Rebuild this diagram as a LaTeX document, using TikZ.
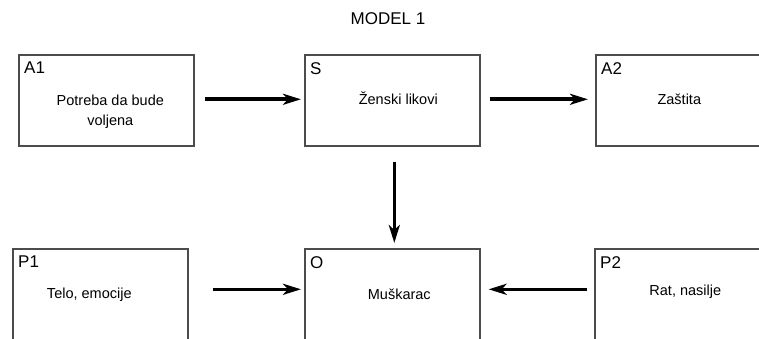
\documentclass[tikz,border=0pt]{standalone}
\usepackage{fontspec}
\setmainfont{Liberation Sans}
\usetikzlibrary{calc,arrows.meta}
\begin{document}
\begin{tikzpicture}[x=1pt,y=-1pt,
  box/.style={draw=black!70,line width=1.6pt,minimum width=175pt,minimum height=91pt,
    anchor=north west,inner sep=0pt},
  tag/.style={anchor=north west,inner sep=0pt,font=\fontsize{17}{17}\selectfont},
  body/.style={align=center,inner sep=0pt,font=\fontsize{14.5}{20}\selectfont},
  flow/.style={line width=3.6pt,-{Stealth[length=18pt,width=11pt,inset=5pt]}}]
\clip (0,0) rectangle (759,339);
\fill[white] (0,0) rectangle (759,339);

\node[font=\fontsize{17}{17}\selectfont] (title) at (388,19) {MODEL 1};

% upper row
\node[box] (A1) at (18,54) {};
\node[box] (S)  at (304,54) {};
\node[box] (A2) at (595,54) {};
% lower row
\node[box] (P1) at (12,248) {};
\node[box] (O)  at (304,248) {};
\node[box] (P2) at (594,248) {};

% corner tags
\node[tag] (tA1) at ($(A1.north west)+(6,8)$) {A1};
\node[tag] (tS)  at ($(S.north west)+(6,8)$) {S};
\node[tag] (tA2) at ($(A2.north west)+(6,8)$) {A2};
\node[tag] (tP1) at ($(P1.north west)+(6,8)$) {P1};
\node[tag] (tO)  at ($(O.north west)+(6,8)$) {O};
\node[tag] (tP2) at ($(P2.north west)+(6,8)$) {P2};

% box contents
\node[body] (xA1) at ($(A1.center)+(4,11)$) {Potreba da bude\\voljena};
\node[body] (xS)  at ($(S.center)+(6,-2)$) {Ženski likovi};
\node[body] (xA2) at ($(A2.center)+(-4,-1)$) {Zaštita};
\node[body] (xP1) at ($(P1.center)+(-11,0)$) {Telo, emocije};
\node[body] (xO)  at ($(O.center)+(7,0)$) {Muškarac};
\node[body] (xP2) at ($(P2.center)+(3,-3)$) {Rat, nasilje};

% connectors
\draw[flow] ($(A1.east)+(10,-1)$) -- ($(S.west)+(-3,-1)$);
\draw[flow] ($(S.east)+(9,-1)$) -- ($(A2.west)+(-7,-1)$);
\draw[flow] ($(S.south)+(2,15)$) -- ($(O.north)+(2,-5)$);
\draw[flow] ($(P1.east)+(24,-5)$) -- ($(O.west)+(-3,-5)$);
\draw[flow] ($(P2.west)+(-7,-5)$) -- ($(O.east)+(8,-5)$);
\end{tikzpicture}
\end{document}
